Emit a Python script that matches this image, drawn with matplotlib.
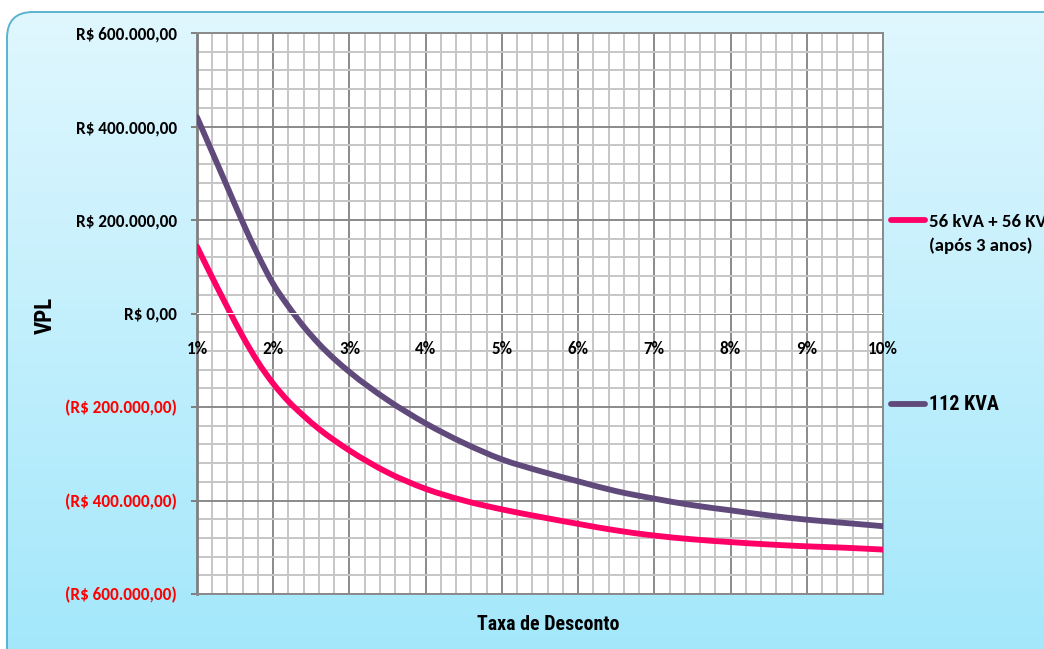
import numpy as np
import matplotlib
matplotlib.use("Agg")
import matplotlib.pyplot as plt
from matplotlib.patches import FancyBboxPatch, PathPatch
from matplotlib.path import Path
from matplotlib.lines import Line2D
from matplotlib.ticker import MultipleLocator

# Discount rate (%) and net present value (R$) for each option
rates = [1.0, 1.2, 1.4, 1.6, 1.8, 2.0, 2.2, 2.4, 2.6, 2.8, 3.0, 3.5, 4.0, 4.5,
         5.0, 5.5, 6.0, 6.5, 7.0, 7.5, 8.0, 8.5, 9.0, 9.5, 10.0]
npv_split = [143000, 77000, 13000, -49000, -104000, -150000, -188000, -219000,
             -247000, -271000, -293000, -340000, -375000, -400000, -419000,
             -435000, -450000, -464000, -475000, -483000, -489000, -494000,
             -498000, -501000, -505000]
npv_single = [420000, 345000, 270000, 195000, 125000, 63000, 15000, -28000,
              -65000, -97000, -125000, -185000, -235000, -277000, -312000,
              -337000, -359000, -380000, -396000, -410000, -421000, -432000,
              -441000, -448000, -455000]
series_names = ["56 kVA + 56 KVA\n(após 3 anos)", "112 KVA"]
series_colors = ["#ff0066", "#604a7b"]

y_ticks = [-600000, -400000, -200000, 0, 200000, 400000, 600000]
x_ticks = [1, 2, 3, 4, 5, 6, 7, 8, 9, 10]
x_tick_labels = ["1%", "2%", "3%", "4%", "5%", "6%", "7%", "8%", "9%", "10%"]

BODY = ["Carlito", "Lato", "DejaVu Sans"]
NARROW = ["Roboto Condensed", "PT Sans Narrow", "Liberation Sans", "DejaVu Sans"]


def brl(v):
    s = f"{abs(v):,.2f}".replace(",", "X").replace(".", ",").replace("X", ".")
    return f"(R$ {s})" if v < 0 else f"R$ {s}"


def smooth_path(x, y):
    """Cubic Hermite path through the points (smoothed line style)."""
    x = np.asarray(x, float)
    y = np.asarray(y, float)
    m = np.gradient(y, x)
    verts = [(x[0], y[0])]
    codes = [Path.MOVETO]
    for i in range(len(x) - 1):
        h = x[i + 1] - x[i]
        verts += [(x[i] + h / 3, y[i] + m[i] * h / 3),
                  (x[i + 1] - h / 3, y[i + 1] - m[i + 1] * h / 3),
                  (x[i + 1], y[i + 1])]
        codes += [Path.CURVE4] * 3
    return Path(verts, codes)


W, H = 1044, 649
fig = plt.figure(figsize=(W / 100, H / 100), dpi=100)
fig.patch.set_facecolor("white")

# Rounded panel with a soft vertical gradient
bg = fig.add_axes([0, 0, 1, 1], zorder=0)
bg.set_xlim(0, W)
bg.set_ylim(H, 0)
bg.axis("off")
top_c = np.array([224, 247, 254]) / 255
bot_c = np.array([158, 230, 251]) / 255
t = np.linspace(0, 1, 256)[:, None, None]
grad = np.repeat(top_c * (1 - t) + bot_c * t, 2, axis=1)
panel = FancyBboxPatch((7, 12), 1100, 700,
                       boxstyle="round,pad=0,rounding_size=26",
                       facecolor="none", edgecolor="#5ab4cf", linewidth=1.4)
img = bg.imshow(grad, extent=(7, 1107, 712, 12), aspect="auto", zorder=0)
bg.add_patch(panel)
img.set_clip_path(panel)

# Main plotting area
ax = fig.add_axes([197 / W, 1 - 594 / H, (883 - 197) / W, (594 - 33) / H], zorder=2)
ax.set_facecolor("white")
ax.set_xlim(1, 10)
ax.set_ylim(-600000, 600000)

ax.xaxis.set_major_locator(MultipleLocator(1))
ax.xaxis.set_minor_locator(MultipleLocator(0.2))
ax.yaxis.set_major_locator(MultipleLocator(200000))
ax.yaxis.set_minor_locator(MultipleLocator(40000))
ax.grid(which="minor", color="#c6c6c6", linewidth=1.4)
ax.grid(which="major", color="#8a8a8a", linewidth=1.4)
ax.set_axisbelow(True)

for side in ["top", "right", "bottom"]:
    ax.spines[side].set_color("#8a8a8a")
    ax.spines[side].set_linewidth(1.4)
ax.spines["left"].set_color("#7f7f7f")
ax.spines["left"].set_linewidth(2.0)

tick_font = dict(family=BODY, weight="bold", size=12.3)

ax.set_yticks(y_ticks, [brl(v) for v in y_ticks], fontdict=tick_font)
for lbl, v in zip(ax.get_yticklabels(), y_ticks):
    lbl.set_color("#ff0000" if v < 0 else "black")
ax.tick_params(axis="y", which="major", length=4, width=1.4, color="#7f7f7f", pad=10.4)
ax.tick_params(axis="y", which="minor", length=0)
ax.tick_params(axis="x", which="both", length=0, labelbottom=False)

# Category labels sit just below the zero line, drawn over the grid
xsec = ax.secondary_xaxis(0.5)
xsec.set_alignment("bottom")
xsec.set_zorder(4)
xsec.set_xticks(x_ticks, x_tick_labels, fontdict=tick_font)
xsec.xaxis.set_minor_locator(MultipleLocator(0.2))
xsec.tick_params(axis="x", which="both", length=0, pad=20)
for sp in xsec.spines.values():
    sp.set_visible(False)

for vals, col in zip([npv_split, npv_single], series_colors):
    ax.add_patch(PathPatch(smooth_path(rates, vals), facecolor="none",
                           edgecolor=col, linewidth=4.2, capstyle="round",
                           joinstyle="round", zorder=3))

fig.text(45 / W, 1 - 315 / H, "VPL", rotation=90, ha="center", va="center",
         fontsize=16.5, fontweight="bold", family=NARROW)
fig.text(548 / W, 1 - 624 / H, "Taxa de Desconto", ha="center", va="center",
         fontsize=14.3, fontweight="bold", family=NARROW)

# Legend entries on the right
fig.add_artist(Line2D([891 / W, 925 / W], [1 - 220 / H, 1 - 220 / H],
                      color=series_colors[0], linewidth=4.2,
                      solid_capstyle="round"))
fig.text(929 / W, 1 - 234 / H, series_names[0], ha="left", va="center",
         fontsize=13.5, fontweight="bold", family=BODY, linespacing=1.5)
fig.add_artist(Line2D([891 / W, 925 / W], [1 - 404 / H, 1 - 404 / H],
                      color=series_colors[1], linewidth=4.2,
                      solid_capstyle="round"))
fig.text(929 / W, 1 - 404 / H, series_names[1], ha="left", va="center",
         fontsize=14.5, fontweight="bold", family=NARROW)

fig.savefig("out.png", dpi=100)
